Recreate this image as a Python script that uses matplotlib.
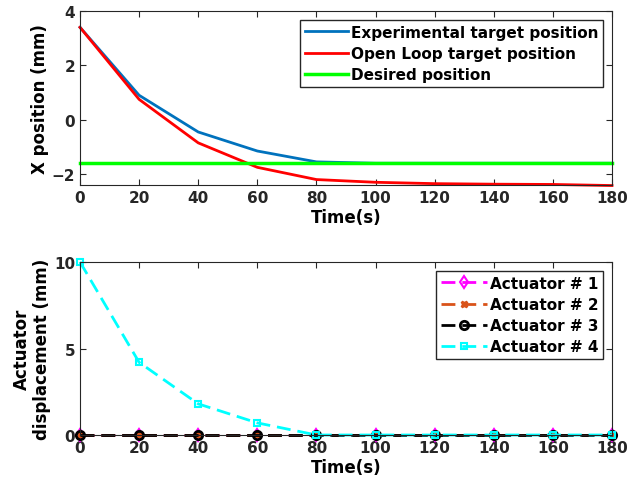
import numpy as np
import matplotlib.pyplot as plt

# data
t = [0, 20, 40, 60, 80, 100, 120, 140, 160, 180]
exp_pos = [3.4, 0.9, -0.45, -1.15, -1.55, -1.6, -1.6, -1.6, -1.6, -1.6]
ol_pos = [3.4, 0.75, -0.85, -1.75, -2.2, -2.3, -2.35, -2.37, -2.38, -2.42]
desired = [-1.6] * len(t)

act1 = [0, 0, 0, 0, 0, 0, 0, 0, 0, 0]
act2 = [0, 0, 0, 0, 0, 0, 0, 0, 0, 0]
act3 = [0, 0, 0, 0, 0, 0, 0, 0, 0, 0]
act4 = [10, 4.2, 1.8, 0.7, 0, 0, 0, 0, 0, 0]

plt.rcParams['font.family'] = 'DejaVu Sans'
plt.rcParams['font.weight'] = 'bold'
plt.rcParams['font.size'] = 11
plt.rcParams['axes.labelweight'] = 'bold'

fig = plt.figure(figsize=(6.31, 4.89), dpi=100)

leg_kw = dict(loc='upper right', fancybox=False, edgecolor='#262626', framealpha=1,
              borderpad=0.3, labelspacing=0.4, handletextpad=0.2, borderaxespad=0.6)

# top plot
ax1 = fig.add_axes([80/631, 1-186/489, 532/631, 174/489])
ax1.plot(t, exp_pos, color='#0072BD', lw=2, label='Experimental target position')
ax1.plot(t, ol_pos, color='red', lw=2, label='Open Loop target position')
ax1.plot(t, desired, color='#00FF00', lw=2.5, label='Desired position')
ax1.set_xlim(0, 180)
ax1.set_ylim(-2.4, 4)
ax1.set_xticks(np.arange(0, 181, 20))
ax1.set_yticks([-2, 0, 2, 4])
ax1.set_xlabel('Time(s)', fontsize=12, labelpad=2)
ax1.set_ylabel('X position (mm)', fontsize=12, labelpad=2)
ax1.legend(handlelength=2.8, **leg_kw)

# bottom plot
ax2 = fig.add_axes([80/631, 1-436/489, 532/631, 173/489])
dash = (5, 2.5)
ax2.plot(t, act1, '--', dashes=dash, color='magenta', marker='d', mfc='none', ms=6, mew=1.5, lw=2, label='Actuator # 1')
ax2.plot(t, act2, '--', dashes=dash, color='#D95319', marker='X', ms=5, lw=2, label='Actuator # 2')
ax2.plot(t, act3, '--', dashes=dash, color='black', marker='o', mfc='none', ms=6, mew=2, lw=2, label='Actuator # 3')
ax2.plot(t, act4, '--', dashes=dash, color='cyan', marker='s', mfc='none', ms=5, mew=1.5, lw=2, label='Actuator # 4')
ax2.set_xlim(0, 180)
ax2.set_ylim(0, 10)
ax2.set_xticks(np.arange(0, 181, 20))
ax2.set_yticks([0, 5, 10])
ax2.set_xlabel('Time(s)', fontsize=12, labelpad=2)
ax2.set_ylabel('Actuator\ndisplacement (mm)', fontsize=12, labelpad=2)
ax2.legend(handlelength=3.0, **leg_kw)

for ax in (ax1, ax2):
    ax.tick_params(direction='in', top=True, right=True, length=4, colors='#262626')
    for s in ax.spines.values():
        s.set_color('#262626')
    for ln in ax.get_lines():
        ln.set_clip_on(False)

fig.savefig('out.png', dpi=100)
